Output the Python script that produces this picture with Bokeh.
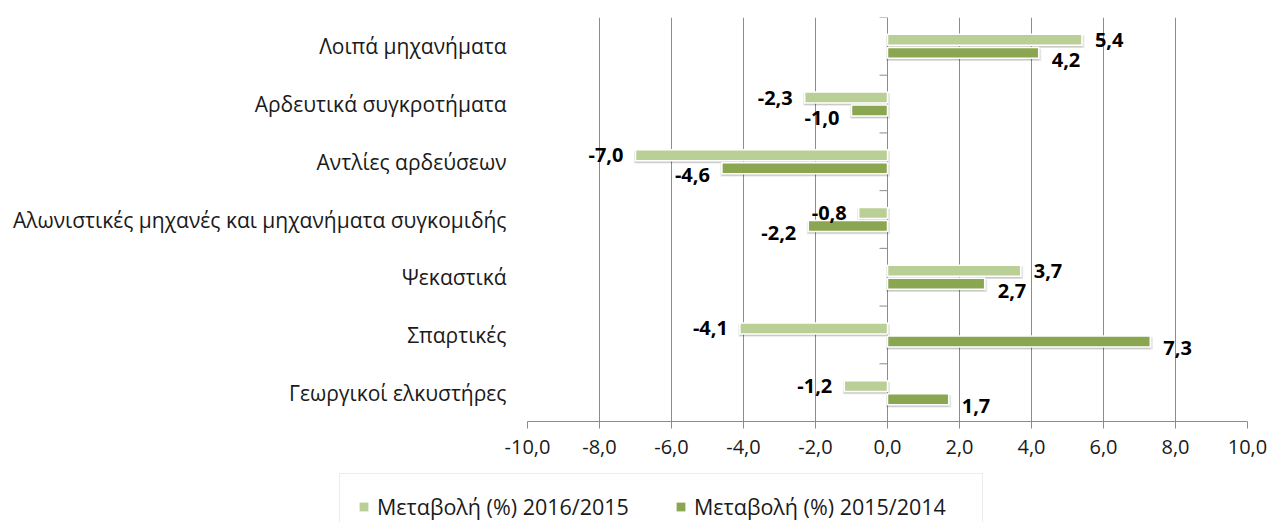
from bokeh.plotting import figure
from bokeh.layouts import column
from bokeh.models import (ColumnDataSource, Range1d, FixedTicker, Legend, LegendItem)
from bokeh.core.properties import value
from bokeh.embed import file_html
from bokeh.resources import INLINE

# ---------------- data ----------------
categories = ["Λοιπά μηχανήματα", "Αρδευτικά συγκροτήματα", "Αντλίες αρδεύσεων",
              "Αλωνιστικές μηχανές και μηχανήματα συγκομιδής", "Ψεκαστικά",
              "Σπαρτικές", "Γεωργικοί ελκυστήρες"]
change_2016_2015 = [5.4, -2.3, -7.0, -0.8, 3.7, -4.1, -1.2]
change_2015_2014 = [4.2, -1.0, -4.6, -2.2, 2.7, 7.3, 1.7]
series_names = ["Μεταβολή (%) 2016/2015", "Μεταβολή (%) 2015/2014"]
x_ticks = [-10, -8, -6, -4, -2, 0, 2, 4, 6, 8, 10]
x_tick_labels = ["-10,0", "-8,0", "-6,0", "-4,0", "-2,0", "0,0", "2,0", "4,0", "6,0", "8,0", "10,0"]

# ---------------- style ----------------
LIGHT = "#B9CF96"
DARK = "#8BA650"
GRID = "#8C8C8C"
FONT = "Open Sans"

n = len(categories)
ypos = [n - 1 - i for i in range(n)]
bar_h = 0.19
off = 0.113


def fmt(v):
    return f"{v:.1f}".replace(".", ",")


W = 1269
H_MAIN = 467
H_LEG = 55
FL, FR, FT, FB = 527, 1247, 17, 421
p = figure(width=W, height=H_MAIN, output_backend="svg", toolbar_location=None,
           x_range=Range1d(-10, 10), y_range=Range1d(-0.5, n - 0.5),
           min_border_left=FL, min_border_right=W - FR, min_border_top=FT,
           min_border_bottom=H_MAIN - FB)
p.outline_line_color = None
p.background_fill_color = "white"
p.border_fill_color = "white"

px_x = (FR - FL) / 20.0
px_y = (FB - FT) / float(n)


def make_src(vals, dy, label_dy):
    return ColumnDataSource(dict(
        y=[y + dy for y in ypos],
        left=[min(0, v) for v in vals],
        right=[max(0, v) for v in vals],
        sl=[min(0, v) - 1.5 / px_x for v in vals],
        sr=[max(0, v) + 2.5 / px_x for v in vals],
        sy=[y + dy - 2.0 / px_y for y in ypos],
        v=vals,
        txt=[fmt(v) for v in vals],
        align=["left" if v >= 0 else "right" for v in vals],
        xo=[13 if v >= 0 else -12 for v in vals],
        yo=[label_dy] * n,
    ))


src_a = make_src(change_2016_2015, off, 0)
src_b = make_src(change_2015_2014, -off, 7)

# shadows
for s in (src_a, src_b):
    p.hbar(y="sy", left="sl", right="sr", height=bar_h + 1.5 / px_y, source=s,
           fill_color="black", fill_alpha=0.10, line_color=None)
    p.hbar(y="sy", left="left", right="right", height=bar_h, source=s,
           fill_color="black", fill_alpha=0.12, line_color=None)

p.hbar(y="y", left="left", right="right", height=bar_h, source=src_a,
       fill_color=LIGHT, line_color="white", line_width=1.5)
p.hbar(y="y", left="left", right="right", height=bar_h, source=src_b,
       fill_color=DARK, line_color="white", line_width=1.5)

for s in (src_a, src_b):
    p.text(x="v", y="y", text="txt", source=s, text_align="align", x_offset="xo",
           y_offset="yo", text_baseline="middle", text_font=value(FONT),
           text_font_style="bold", text_font_size="20px", text_color="black")

# category boundary ticks on the zero line
bounds = [k - 0.5 for k in range(n + 1)]
p.segment(x0=[-8 / px_x] * len(bounds), x1=[0] * len(bounds), y0=bounds, y1=bounds,
          line_color=GRID, line_width=1)

# axes
xa = p.xaxis[0]
xa.ticker = FixedTicker(ticks=x_ticks)
xa.major_label_overrides = {t: l for t, l in zip(x_ticks, x_tick_labels)}
xa.axis_line_color = GRID
xa.major_tick_line_color = GRID
xa.major_tick_in = 0
xa.major_tick_out = 7
xa.minor_tick_line_color = None
xa.major_label_text_font = FONT
xa.major_label_text_font_size = "20px"
xa.major_label_text_color = "#1a1a1a"
xa.major_label_standoff = 11

ya = p.yaxis[0]
ya.ticker = FixedTicker(ticks=ypos)
ya.major_label_overrides = {y: c for y, c in zip(ypos, categories)}
ya.axis_line_color = None
ya.major_tick_line_color = None
ya.major_tick_in = 0
ya.major_tick_out = 0
ya.minor_tick_line_color = None
ya.major_label_text_font = FONT
ya.major_label_text_font_size = "21px"
ya.major_label_text_color = "#1a1a1a"
ya.major_label_standoff = 21

p.xgrid.ticker = FixedTicker(ticks=x_ticks)
p.xgrid.grid_line_color = GRID
p.ygrid.grid_line_color = None

# ---------------- legend strip ----------------
q = figure(width=W, height=H_LEG, output_backend="svg", toolbar_location=None,
           x_axis_type=None, y_axis_type=None, x_range=Range1d(0, 1), y_range=Range1d(0, 1),
           min_border_left=0, min_border_right=0, min_border_top=0, min_border_bottom=0,
           outline_line_color=None)
q.frame_align = False
q.outline_line_alpha = 0
q.background_fill_color = "white"
q.border_fill_color = "white"
# legend-only renderers (zero-size, off the visible range of the strip)
la = q.hbar(y=[-5], left=[0], right=[0], height=0.01, fill_color=LIGHT, line_color=None)
lb = q.hbar(y=[-5], left=[0], right=[0], height=0.01, fill_color=DARK, line_color=None)

PAD, LH = 18, 18
LEG_H = 2 * PAD + 26          # measured legend height
LEG_TOP = 11                  # px below the top of the strip
legend = Legend(items=[LegendItem(label=series_names[0], renderers=[la]),
                       LegendItem(label=series_names[1], renderers=[lb])],
                orientation="horizontal",
                location=(357 - PAD, H_LEG - LEG_TOP - LEG_H))
legend.border_line_color = "#D9D9D9"
legend.border_line_width = 1.5
legend.background_fill_color = "white"
legend.background_fill_alpha = 1
legend.padding = PAD
legend.glyph_width = 11
legend.glyph_height = 11
legend.label_standoff = 8
legend.label_width = 270
legend.label_height = LH
legend.spacing = 28
legend.margin = 0
legend.label_text_font = FONT
legend.label_text_font_size = "21.5px"
legend.label_text_color = "#1a1a1a"
q.add_layout(legend, "center")

layout = column(p, q, spacing=0)
open("out.html", "w").write(file_html(layout, INLINE))
